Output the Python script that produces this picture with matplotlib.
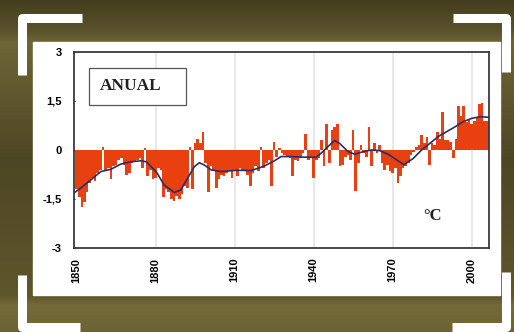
import numpy as np
import matplotlib
matplotlib.use("Agg")
from matplotlib import pyplot as plt
from matplotlib.patches import Rectangle

# годовые аномалии температуры, °C
years = np.arange(1850, 2007)
anom = [
    -1.2, -1.45, -1.75, -1.6, -1.3, -1.0, -0.85, -0.95, -0.7, -0.6,      # 1850
    0.1, -0.65, -0.55, -0.9, -0.5, -0.45, -0.3, -0.25, -0.45, -0.75,     # 1860
    -0.7, -0.4, -0.35, -0.3, -0.25, -0.55, 0.05, -0.8, -0.6, -0.9,       # 1870
    -0.85, -0.55, -0.6, -1.45, -1.2, -1.3, -1.5, -1.55, -1.4, -1.5,      # 1880
    -1.35, -1.1, -1.15, 0.1, -1.2, 0.2, 0.35, 0.2, 0.55, -0.4,           # 1890
    -1.3, -0.5, -0.6, -1.15, -0.9, -0.75, -0.8, -0.7, -0.6, -0.85,       # 1900
    -0.65, -0.8, -0.55, -0.65, -0.6, -0.75, -1.1, -0.7, -0.5, -0.65,     # 1910
    0.1, -0.55, -0.4, -0.3, -1.1, 0.25, -0.2, 0.05, -0.1, -0.15,         # 1920
    -0.2, -0.25, -0.8, -0.3, -0.35, -0.25, -0.1, 0.5, -0.3, -0.2,        # 1930
    -0.85, -0.3, -0.25, 0.3, -0.5, 0.8, -0.4, 0.6, 0.7, 0.8,             # 1940
    -0.5, -0.45, -0.2, -0.15, -0.3, 0.6, -1.25, -0.4, 0.15, -0.1,        # 1950
    -0.2, 0.7, -0.5, 0.2, -0.1, 0.15, -0.4, -0.6, -0.45, -0.65,          # 1960
    -0.7, -0.55, -1.0, -0.8, -0.55, -0.5, -0.4, -0.15, -0.05, 0.1,       # 1970
    0.15, 0.45, 0.2, 0.4, -0.45, 0.2, 0.15, 0.55, 0.35, 1.15,            # 1980
    0.3, 0.3, 0.25, -0.25, 0.35, 1.35, 1.05, 1.35, 0.85, 0.95,           # 1990
    0.8, 0.9, 1.0, 1.4, 1.45, 0.9, 0.9,                                  # 2000
]

# сглаженная кривая
smooth_years = [1849.2, 1851.5, 1855.3, 1859.2, 1863, 1866.8, 1870.6, 1874.5,
                1876.4, 1878.3, 1880.6, 1883.2, 1887.1, 1889.6, 1892.1, 1894.7,
                1896.6, 1898.5, 1901.1, 1904.9, 1911, 1916.2, 1920.7, 1924.5,
                1927.7, 1931.5, 1936.6, 1941.1, 1943.5, 1945.4, 1948, 1949.9,
                1953.1, 1955.6, 1958.8, 1962, 1965.1, 1968.3, 1971.5, 1974.3,
                1977.8, 1981, 1984.1, 1987.3, 1990.5, 1993.7, 1996.9, 2000.1,
                2003.2, 2006.5]
smooth_vals = [-1.3, -1.17, -0.92, -0.66, -0.59, -0.43, -0.36, -0.33,
               -0.36, -0.51, -0.71, -1.07, -1.3, -1.22, -0.87, -0.51,
               -0.39, -0.46, -0.61, -0.66, -0.62, -0.63, -0.51, -0.36,
               -0.2, -0.2, -0.22, -0.22, -0.05, 0.1, 0.29, 0.2,
               -0.05, -0.13, -0.05, 0.0, -0.02, -0.13, -0.3, -0.45,
               -0.26, 0.0, 0.2, 0.41, 0.56, 0.71, 0.87, 0.97,
               1.02, 1.0]

ytick_vals = [-3, -1.5, 0, 1.5, 3]
ytick_labels = ["-3", "-1,5", "0", "1,5", "3"]
xtick_vals = [1850, 1880, 1910, 1940, 1970, 2000]

W, H = 514, 332
fig = plt.figure(figsize=(W / 100, H / 100), dpi=100)

# фон: оливковая рамка с градиентом
bg = fig.add_axes([0, 0, 1, 1])
bg.set_xlim(0, W)
bg.set_ylim(H, 0)
bg.axis("off")
stops_y = [0, 30, 42, 160, 295, 305, 332]
stops_c = np.array([[0x44, 0x3e, 0x1f], [0x5a, 0x52, 0x2b], [0x6e, 0x65, 0x37],
                    [0x4d, 0x46, 0x24], [0x5e, 0x56, 0x2c], [0x74, 0x6a, 0x39],
                    [0x6c, 0x62, 0x33]]) / 255
yy = np.arange(H)
grad = np.stack([np.interp(yy, stops_y, stops_c[:, i]) for i in range(3)], axis=1)
bg.imshow(grad[:, None, :], extent=[0, W, H, 0], aspect="auto")
bg.add_patch(Rectangle((33, 42), 467, 253, color="white", zorder=2))

# белые уголки
lw = 6.5
kw = dict(color="white", lw=lw, solid_joinstyle="round", solid_capstyle="butt", zorder=3)
bg.plot([82, 22, 22], [18, 18, 75], **kw)
bg.plot([453, 506, 506], [18, 18, 72], **kw)
bg.plot([22, 22, 80], [275, 327, 327], **kw)
bg.plot([506, 506, 452], [272, 327, 327], **kw)

# основной график
ax = fig.add_axes([74 / W, 1 - 248 / H, 415 / W, 196 / H])
ax.set_xlim(1849.0, 2006.6)
ax.set_ylim(-3, 3)
for xv in xtick_vals[1:]:
    ax.axvline(xv, color="#e2e2e2", lw=1.1, zorder=0)
ax.bar(years, anom, width=1.0, color="#e8400f", linewidth=0, zorder=2)
ax.plot(smooth_years, smooth_vals, color="#2b2d6a", lw=1.2, zorder=3)

ax.set_yticks(ytick_vals)
ax.set_yticklabels(ytick_labels, fontfamily="Liberation Sans", fontweight="bold", fontsize=8)
ax.set_xticks(xtick_vals)
ax.set_xticklabels([str(v) for v in xtick_vals], rotation=90, fontfamily="Liberation Sans",
                   fontweight="bold", fontsize=8)
ax.tick_params(axis="y", length=2, width=0.8, pad=8, direction="inout")
ax.tick_params(axis="x", length=0, pad=7)
for s in ax.spines.values():
    s.set_color("#3a3a3a")
    s.set_linewidth(1.3)

# рамка с надписью ANUAL
ax.add_patch(Rectangle((0.036, 0.730), 0.234, 0.188, transform=ax.transAxes,
                       fc="white", ec="#555555", lw=0.9, zorder=5))
ax.text(0.063, 0.827, "ANUAL", transform=ax.transAxes, fontfamily="Liberation Serif",
        fontweight="bold", fontsize=12.5, color="#222222", va="center", ha="left", zorder=6)
ax.text(0.841, 0.163, "°C", transform=ax.transAxes, fontfamily="Liberation Serif",
        fontweight="bold", fontsize=12, color="#222222", va="center", ha="left", zorder=6)

fig.savefig("out.png", dpi=100)
